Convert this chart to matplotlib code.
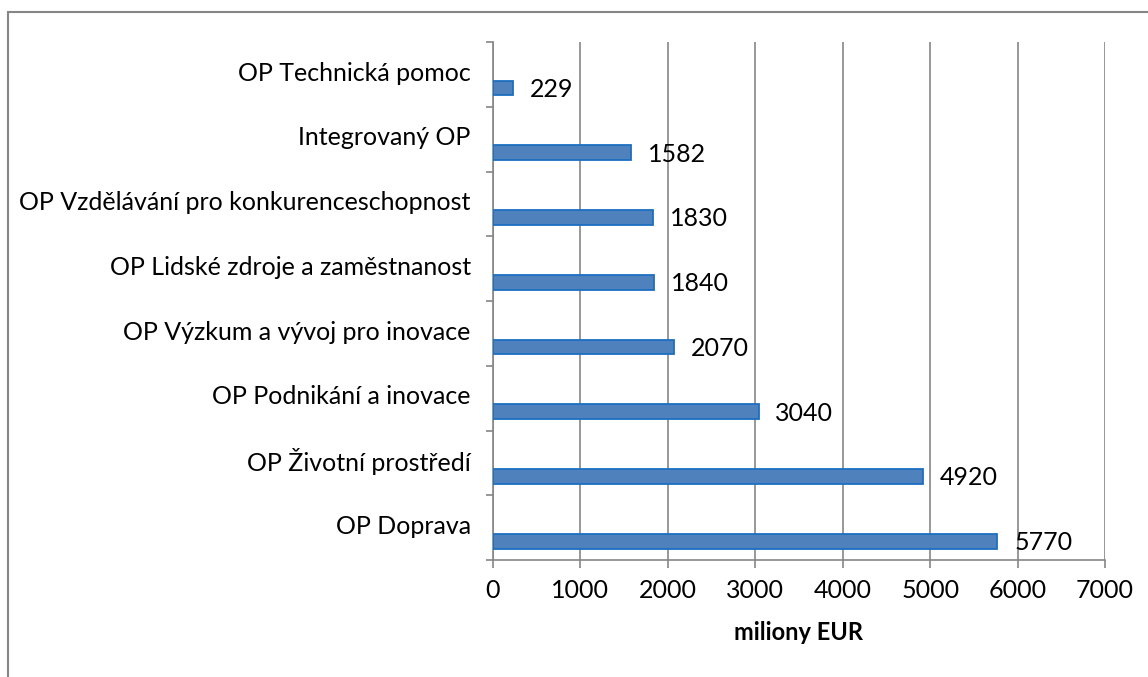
import matplotlib.pyplot as plt
from matplotlib.patches import Rectangle

# data (bottom to top, as drawn)
categories = ["OP Doprava", "OP Životní prostředí", "OP Podnikání a inovace",
              "OP Výzkum a vývoj pro inovace", "OP Lidské zdroje a zaměstnanost",
              "OP Vzdělávání pro konkurenceschopnost", "Integrovaný OP",
              "OP Technická pomoc"]
values = [5770, 4920, 3040, 2070, 1840, 1830, 1582, 229]
x_ticks = [0, 1000, 2000, 3000, 4000, 5000, 6000, 7000]

plt.rcParams['font.family'] = ['Lato', 'DejaVu Sans']
grey = '#868686'
fs = 18

fig = plt.figure(figsize=(11.48, 6.77), dpi=100)
ax = fig.add_axes([493/1148, 1-560/677, (1105-493)/1148, (560-42)/677])

# outer chart border (cut off at right and bottom in the original)
fig.patches.append(Rectangle((8/1148, -0.1), 1.2, 1.1-12/677, transform=fig.transFigure,
                             fill=False, edgecolor=grey, linewidth=1.5))

pos = list(range(len(categories)))
bar_pos = [p - 0.21 for p in pos]
ax.barh(bar_pos, values, height=0.23, color='#4F81BD', edgecolor='#1C6FC2',
        linewidth=1.3, zorder=3)

for y, v in zip(bar_pos, values):
    ax.annotate(str(v), (v, y), xytext=(12, -1), textcoords='offset points',
                ha='left', va='center', fontsize=fs, zorder=4)

ax.set_xlim(0, 7000)
ax.set_ylim(-0.5, len(categories) - 0.5)
ax.set_xticks(x_ticks)
ax.set_xticklabels([str(t) for t in x_ticks], fontsize=fs)
ax.set_yticks([p + 0.05 for p in pos])
ax.set_yticklabels(categories, fontsize=fs)
ax.set_yticks([p - 0.5 for p in pos] + [len(categories) - 0.5], minor=True)

ax.tick_params(axis='y', which='major', length=0, pad=16)
ax.tick_params(axis='y', which='minor', length=5, width=1.2, color=grey, direction='out')
ax.tick_params(axis='x', which='major', length=6, width=1.2, color=grey, pad=8)

ax.grid(axis='x', color=grey, linewidth=1.2, zorder=0)
ax.set_axisbelow(True)
for s in ['top', 'right']:
    ax.spines[s].set_visible(False)
for s in ['left', 'bottom']:
    ax.spines[s].set_color(grey)
    ax.spines[s].set_linewidth(1.2)

ax.set_xlabel("miliony EUR", fontsize=17, fontweight='bold', labelpad=13)

fig.savefig("out.png", dpi=100)
